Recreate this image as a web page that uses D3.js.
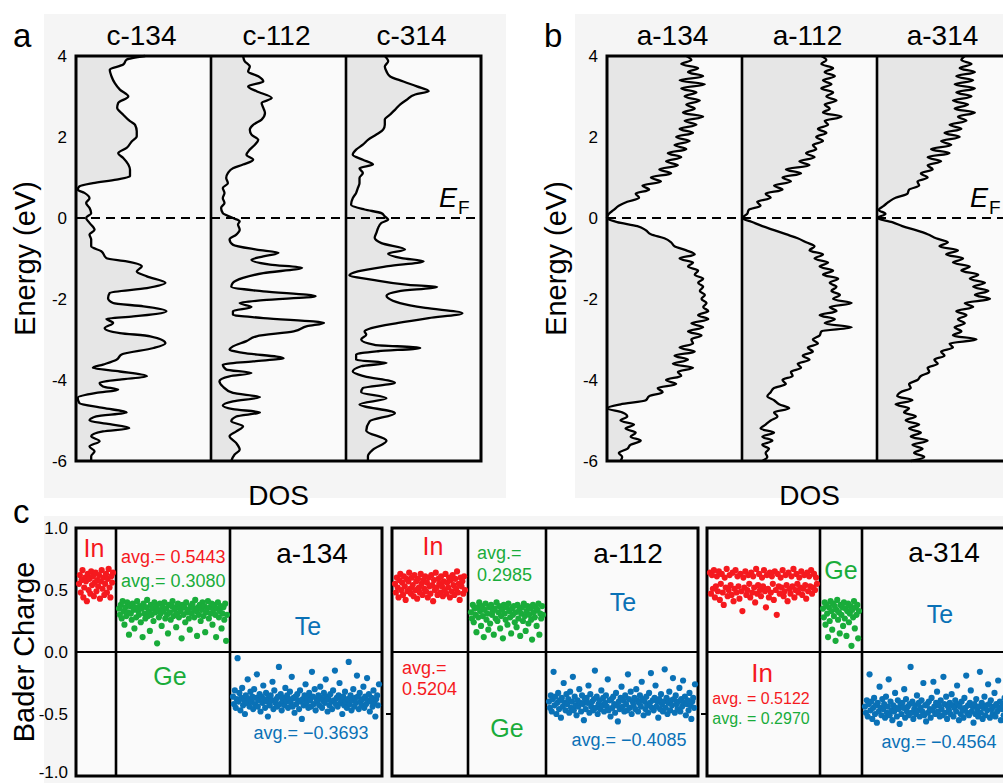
<!DOCTYPE html>
<html>
<head>
<meta charset="utf-8">
<script src="https://cdn.jsdelivr.net/npm/d3@7"></script>
<style>
  body { margin: 0; background: #fff; }
  text { font-family: "Liberation Sans", Arial, sans-serif; }
</style>
</head>
<body>
<script>
// ---- DOS data: [energy (eV), DOS (arb. units)] ----
const c134 = [[4.0,20.5],[3.91,15],[3.79,14],[3.66,10],[3.5,10.5],[3.33,11.5],[3.17,13],[3.0,15.5],[2.84,12.5],[2.72,12.2],[2.55,14],[2.39,16],[2.3,17.5],[2.14,18],[2.02,18],[1.89,16.5],[1.73,15],[1.6,12.5],[1.48,14],[1.32,15.5],[1.19,16],[1.03,16],[0.95,12],[0.86,5],[0.78,1],[0.7,0.5],[0.62,2.5],[0.49,4],[0.37,3],[0.25,4],[0.12,4.5],[0,3],[-0.12,4],[-0.29,5.5],[-0.41,4],[-0.53,4.5],[-0.7,4.5],[-0.82,7.5],[-0.99,9],[-1.07,15],[-1.19,19.5],[-1.32,18],[-1.44,21],[-1.6,26.5],[-1.73,21],[-1.85,10],[-1.98,9.5],[-2.1,11],[-2.18,20],[-2.3,26.8],[-2.43,17],[-2.49,9],[-2.59,11],[-2.72,8.5],[-2.84,13],[-2.92,22],[-3.09,26.5],[-3.21,23],[-3.37,13.5],[-3.5,12],[-3.62,8],[-3.7,5],[-3.79,13],[-3.91,21],[-3.99,13],[-4.07,7],[-4.16,8],[-4.24,12.5],[-4.32,6],[-4.44,0.5],[-4.57,1],[-4.69,8],[-4.8,15],[-4.9,6],[-5.0,4],[-5.08,9],[-5.19,15.8],[-5.27,8],[-5.39,4.5],[-5.51,7],[-5.64,4],[-5.76,5.5],[-5.88,4.5],[-6.0,4.5]];

const c112 = [[4.0,9.5],[3.87,10],[3.74,11.5],[3.62,11],[3.5,14],[3.37,15.5],[3.25,11],[3.13,13.5],[2.96,18],[2.84,15],[2.72,15.5],[2.59,16],[2.43,15],[2.3,12.5],[2.18,11.5],[2.06,12],[1.93,14],[1.81,13],[1.69,11.5],[1.56,10.5],[1.44,12.5],[1.32,9.5],[1.23,6.5],[1.11,5],[0.99,4.5],[0.86,5],[0.74,3.5],[0.62,4],[0.49,3.5],[0.37,4],[0.25,3],[0.12,3.5],[0,6.5],[-0.08,8.5],[-0.16,8],[-0.29,8.5],[-0.41,7.5],[-0.53,5.5],[-0.66,6.5],[-0.78,13.5],[-0.86,20],[-0.95,15.5],[-1.03,12],[-1.15,17.5],[-1.23,27],[-1.36,15.5],[-1.48,9.5],[-1.6,6.5],[-1.7,6],[-1.81,15.5],[-1.93,31],[-2.03,15.5],[-2.1,8.5],[-2.2,12],[-2.3,6.5],[-2.39,6.5],[-2.47,15.5],[-2.59,33.5],[-2.67,28.5],[-2.8,24.5],[-2.92,13.5],[-3.04,10.5],[-3.17,6.5],[-3.25,5.5],[-3.33,9.5],[-3.46,21.5],[-3.54,12.5],[-3.62,3.5],[-3.74,4.5],[-3.83,12],[-3.91,5.5],[-4.03,2.5],[-4.16,3.5],[-4.32,6.5],[-4.42,14.5],[-4.53,6.5],[-4.63,3.5],[-4.72,6.5],[-4.8,14.5],[-4.9,7.5],[-5.02,6],[-5.14,9.5],[-5.27,7.5],[-5.39,5.5],[-5.56,7.5],[-5.72,8.5],[-5.84,7],[-6.0,6]];

const c314 = [[4.0,11.5],[3.87,12.5],[3.74,11.5],[3.62,12],[3.5,13],[3.37,17],[3.25,21],[3.13,24.5],[3.05,20.5],[2.92,18],[2.8,16],[2.67,14.5],[2.55,13],[2.43,11.5],[2.3,11.5],[2.18,11],[2.06,9],[1.93,6.5],[1.81,5],[1.69,3],[1.56,2],[1.44,5],[1.32,8],[1.23,4],[1.11,5],[0.99,4],[0.86,4],[0.74,3.5],[0.62,3],[0.49,2],[0.33,1.5],[0.21,5.5],[0.12,10.5],[0.04,11.5],[-0.04,12.5],[-0.12,10.5],[-0.25,9.5],[-0.37,9],[-0.49,8.5],[-0.62,10.5],[-0.78,17.5],[-0.88,12.5],[-0.99,16.5],[-1.07,23],[-1.19,12.5],[-1.32,3.5],[-1.42,1],[-1.52,7.5],[-1.65,18.5],[-1.7,27],[-1.81,15.5],[-1.92,12],[-1.98,12.5],[-2.1,16],[-2.22,23.5],[-2.35,34.5],[-2.47,24.5],[-2.59,15.5],[-2.72,7.5],[-2.8,5.5],[-2.88,6],[-3.0,4.5],[-3.13,8.5],[-3.21,22],[-3.29,9.5],[-3.37,3],[-3.5,3],[-3.58,12],[-3.66,4.5],[-3.79,2],[-3.91,5.5],[-4.07,14.5],[-4.2,5],[-4.3,4.5],[-4.45,12],[-4.6,4],[-4.82,14.5],[-5.02,7],[-5.25,6],[-5.5,12],[-5.72,8],[-5.88,6.5],[-6.0,6.5]];

// amorphous DOS sampled every 0.1 eV
const aEnergy = [4.0,3.9,3.8,3.7,3.6,3.5,3.4,3.3,3.2,3.1,3.0,2.9,2.8,2.7,2.6,2.5,2.4,2.3,2.2,2.1,2.0,1.9,1.8,1.7,1.6,1.5,1.4,1.3,1.2,1.1,1.0,0.9,0.8,0.7,0.6,0.5,0.4,0.3,0.2,0.1,0.0,-0.1,-0.2,-0.3,-0.4,-0.5,-0.6,-0.7,-0.8,-0.9,-1.0,-1.1,-1.2,-1.3,-1.4,-1.5,-1.6,-1.7,-1.8,-1.9,-2.0,-2.1,-2.2,-2.3,-2.4,-2.5,-2.6,-2.7,-2.8,-2.9,-3.0,-3.1,-3.2,-3.3,-3.4,-3.5,-3.6,-3.7,-3.8,-3.9,-4.0,-4.1,-4.2,-4.3,-4.4,-4.5,-4.6,-4.7,-4.8,-4.9,-5.0,-5.1,-5.2,-5.3,-5.4,-5.5,-5.6,-5.7,-5.8,-5.9,-6.0];

const a134 = [23.5,25,22,27,24,28.5,21.5,29,22,26.5, 23,27.5,23.5,26,22.5,28.5,23,26.5,21.5,25.5, 20.5,24.5,20,23.5,18,22,17.5,21,15.5,19, 13,16,10.5,12.5,8.5,9.5,6,3.5,2,0.5, 0, 3,9,11.5,13,17,19,20,23.5,26,21.5, 25.5,24,27,26,28.5,27,28.5,27.5,29,28, 29.5,28.5,30,27,30,25,28.5,24,28,25, 25.5,21.5,26,20,24,19.5,25.5,21,22,17.5, 20.5,15,16.5,12.5,11.5,4,0,4.5,6,4, 8,5.5,8.5,7,10,7,6,3.5,4.5,4];

const a112 = [23.5,25,23.5,27,24.5,27.5,24,26.5,23.5,27, 25,28,24.5,26,24,29.5,24.5,25.5,22.5,25, 22,24,21,22,19,21.5,17,20,13,17.5, 12,14.5,9.5,12,7,8.5,4.5,5.5,2,1.5, 0, 3,6,9.5,13,16.5,19,21.5,20,24,21.5, 25.5,23,27,24,28.5,26,28,26.5,29,27, 32.5,26,28,23,27.5,24.5,32.5,23.5,23,21, 22.5,19.5,21,18,20,16.5,17.5,14.5,15,12, 13,9.5,8.5,7.5,9.5,11,14,9.5,10.5,8.5, 7,5.5,9.5,6,9,6,8,7,7.5,6];

const a314 = [26,25,28,24.5,29,23.5,28.5,23,29,23.5, 28,22.5,27,23,29,24,26.5,21.5,25,20, 24.5,19,22,16,21.5,15,19,15,16.5,13, 15,12,12.5,9.5,9,5.5,3.5,2,0.5,2.5, 0, 4.5,7.5,11.5,15,17.5,21,18.5,24,20.5,25.5, 22.5,27.5,25,30,27.5,32,28.5,33,29,33.5, 26,28.5,23.5,26.5,24,26,23,25,22.5,29.5, 21.5,22.5,19,20,17,18,15,15.5,13,12, 9.5,10,7,6,10.5,5.5,9.5,8,11.5,8.5, 12.5,9.5,13,10,15,10.5,13.5,11,14,10];

const cTitles = ["c-134", "c-112", "c-314"];
const aTitles = ["a-134", "a-112", "a-314"];
const energyTicks = [4, 2, 0, -2, -4, -6];

// ---- Bader charge data (per atom, ordered by atom index) ----
const in134 = [.55,.62,.48,.58,.66,.44,.52,.60,.57,.41,.63,.50,.59,.47,.65,.54,.61,.45,.56,.64,.49,.58,.53,.62,.43,.57,.66,.51,.60,.46,.55,.63,.48,.59,.67,.52,.44,.61,.56,.64];
const ge134 = [.35,.30,.38,.27,.41,.33,.22,.36,.29,.40,.32,.14,.37,.31,.26,.39,.34,.19,.36,.28,
  .41,.33,.30,.37,.24,.35,.12,.39,.31,.27,.36,.42,.29,.33,.17,.38,.30,.35,.25,.40,
  .32,.37,.07,.34,.28,.39,.31,.21,.36,.33,.40,.27,.35,.30,.15,.38,.32,.26,.37,.41,
  .29,.34,.36,.20,.31,.39,.28,.35,.33,.11,.38,.30,.36,.24,.40,.32,.34,.27,.18,.37,
  .31,.39,.35,.28,.42,.33,.13,.36,.30,.38,.25,.34,.40,.29,.37,.16,.32,.35,.41,.27,
  .36,.31,.39,.22,.34,.38,.30,.12,.35,.40,.28,.33,.37,.19,.31,.36,.26,.39,.09,.30];
const te134 = [-.36,-.42,-.31,-.45,-.38,-.05,-.40,-.33,-.47,-.37,-.29,-.43,-.39,-.50,-.35,-.41,-.22,-.38,-.44,-.32,
  -.40,-.36,-.46,-.30,-.42,-.37,-.18,-.44,-.39,-.34,-.48,-.36,-.41,-.27,-.38,-.45,-.33,-.40,-.52,-.37,
  -.43,-.35,-.39,-.24,-.46,-.31,-.41,-.38,-.44,-.36,-.12,-.42,-.34,-.47,-.39,-.37,-.43,-.29,-.40,-.35,
  -.45,-.38,-.32,-.41,-.20,-.44,-.37,-.49,-.36,-.42,-.34,-.39,-.46,-.31,-.40,-.54,-.38,-.43,-.35,-.26,
  -.41,-.37,-.45,-.33,-.39,-.44,-.16,-.36,-.42,-.30,-.47,-.38,-.40,-.35,-.43,-.28,-.37,-.45,-.39,-.33,
  -.41,-.22,-.36,-.48,-.38,-.43,-.34,-.40,-.46,-.31,-.39,-.15,-.42,-.37,-.44,-.35,-.25,-.41,-.38,-.50,
  -.36,-.43,-.32,-.40,-.45,-.38,-.08,-.42,-.35,-.47,-.39,-.30,-.44,-.37,-.41,-.19,-.36,-.46,-.33,-.40,
  -.43,-.38,-.28,-.45,-.36,-.42,-.21,-.39,-.34,-.48,-.40,-.37,-.44,-.31,-.41,-.52,-.38,-.35,-.43,-.26];

const in112 = [.55,.48,.60,.52,.44,.58,.63,.50,.56,.46,.61,.53,.42,.59,.49,.57,.64,.51,.47,.60,
  .54,.45,.62,.50,.57,.43,.59,.52,.48,.63,.55,.46,.58,.51,.61,.49,.56,.44,.60,.53,
  .47,.62,.54,.41,.58,.50,.64,.52,.46,.59,.55,.48,.61,.53,.45,.57,.50,.63,.47,.56,
  .52,.60,.44,.58,.49,.62,.54,.46,.59,.51,.65,.48,.55,.42,.60,.53,.57,.47,.61,.50];
const ge112 = [.32,.27,.38,.24,.35,.30,.16,.36,.28,.40,.33,.21,.37,.29,.12,.34,.39,.26,.31,.18,
  .36,.23,.38,.30,.33,.14,.35,.27,.40,.25,.32,.37,.19,.29,.34,.11,.38,.31,.26,.36,
  .22,.39,.33,.28,.15,.35,.30,.37,.24,.32,.20,.38,.27,.34,.13,.31,.36,.25,.39,.29,
  .17,.33,.37,.23,.30,.35,.26,.10,.38,.32,.28,.36,.21,.34,.39,.14,.31,.27,.37,.30];
const te112 = [-.40,-.45,-.35,-.48,-.38,-.16,-.43,-.36,-.50,-.41,-.33,-.46,-.39,-.53,-.37,-.44,-.25,-.41,-.47,-.34,
  -.42,-.38,-.49,-.32,-.45,-.40,-.20,-.47,-.36,-.43,-.51,-.39,-.44,-.30,-.41,-.48,-.35,-.42,-.55,-.38,
  -.46,-.37,-.41,-.27,-.49,-.34,-.44,-.40,-.47,-.38,-.15,-.45,-.36,-.50,-.42,-.39,-.46,-.31,-.43,-.37,
  -.48,-.41,-.35,-.44,-.22,-.47,-.39,-.52,-.38,-.45,-.36,-.42,-.49,-.33,-.43,-.56,-.40,-.46,-.37,-.28,
  -.44,-.39,-.48,-.35,-.42,-.47,-.18,-.38,-.45,-.32,-.50,-.40,-.43,-.37,-.46,-.30,-.39,-.48,-.41,-.35,
  -.44,-.24,-.38,-.51,-.40,-.46,-.36,-.43,-.49,-.33,-.41,-.17,-.45,-.39,-.47,-.37,-.27,-.44,-.40,-.53,
  -.38,-.46,-.34,-.42,-.48,-.40,-.14,-.45,-.37,-.50,-.41,-.32,-.47,-.39,-.43,-.21,-.38,-.49,-.35,-.42,
  -.46,-.40,-.29,-.48,-.38,-.44,-.23,-.41,-.36,-.51,-.42,-.39,-.47,-.33,-.43,-.54,-.40,-.37,-.45,-.26];

const in314 = [.64,.47,.62,.51,.66,.44,.53,.61,.49,.65,.42,.55,.63,.48,.38,.60,.52,.67,.45,.50,
  .62,.54,.46,.64,.41,.51,.66,.48,.61,.53,.43,.63,.49,.33,.60,.52,.65,.46,.50,.62,
  .55,.44,.64,.48,.61,.52,.40,.67,.47,.54,.63,.50,.45,.60,.53,.66,.49,.36,.62,.51,
  .44,.64,.48,.61,.55,.42,.65,.50,.30,.63,.53,.47,.60,.52,.66,.45,.49,.62,.54,.41,
  .64,.51,.47,.61,.53,.67,.44,.50,.63,.55,.48,.60,.52,.65,.46,.51,.62,.54,.43,.64,
  .49,.61,.53,.66,.47,.52,.63,.50,.60,.55];
const ge314 = [.35,.28,.40,.22,.38,.31,.12,.36,.25,.41,.33,.18,.39,.29,.37,.09,.34,.42,.26,.32,
  .15,.38,.30,.36,.21,.40,.27,.35,.13,.33,.39,.24,.31,.37,.05,.34,.28,.41,.19,.36,
  .30,.38,.11,.33];
const te314 = [-.44,-.49,-.39,-.52,-.42,-.18,-.47,-.40,-.54,-.45,-.37,-.50,-.43,-.57,-.41,-.48,-.28,-.45,-.51,-.38,
  -.46,-.42,-.53,-.36,-.49,-.44,-.22,-.51,-.40,-.47,-.55,-.43,-.48,-.33,-.45,-.52,-.39,-.46,-.58,-.42,
  -.50,-.41,-.45,-.30,-.53,-.38,-.48,-.44,-.51,-.42,-.12,-.49,-.40,-.54,-.46,-.43,-.50,-.35,-.47,-.41,
  -.52,-.45,-.39,-.48,-.25,-.51,-.43,-.56,-.42,-.49,-.40,-.46,-.53,-.37,-.47,-.24,-.44,-.50,-.41,-.32,
  -.48,-.43,-.52,-.39,-.46,-.51,-.20,-.42,-.49,-.36,-.54,-.44,-.47,-.41,-.50,-.34,-.43,-.52,-.45,-.39,
  -.48,-.27,-.42,-.55,-.44,-.50,-.40,-.47,-.53,-.37,-.45,-.19,-.49,-.43,-.51,-.41,-.31,-.48,-.44,-.57,
  -.42,-.50,-.38,-.46,-.52,-.44,-.16,-.49,-.41,-.54,-.45,-.36,-.51,-.43,-.47,-.26,-.42,-.53,-.39,-.46,
  -.50,-.44,-.33,-.52,-.42,-.48,-.23,-.45,-.40,-.55,-.46,-.43,-.51,-.37,-.47,-.58,-.44,-.41,-.49,-.30];

const avgIn = [0.5443, 0.5204, 0.5122];
const avgGe = [0.3080, 0.2985, 0.2970];
const avgTe = [-0.3693, -0.4085, -0.4564];
const baderTitles = ["a-134", "a-112", "a-314"];
const chargeTicks = [1, 0.5, 0, -0.5, -1];

const RED = "#f5191e", GREEN = "#19ac3a", BLUE = "#0a71b6";

const svg = d3.select("body").append("svg").attr("width", 1003).attr("height", 783);

// panel backgrounds
svg.append("rect").attr("x", 44).attr("y", 14).attr("width", 462).attr("height", 484).attr("fill", "#f5f5f5");
svg.append("rect").attr("x", 575).attr("y", 14).attr("width", 428).attr("height", 484).attr("fill", "#f5f5f5");
svg.append("rect").attr("x", 44).attr("y", 516).attr("width", 959).attr("height", 267).attr("fill", "#f5f5f5");

// ---- DOS panels ----
const yE = d3.scaleLinear().domain([-6, 4]).range([461, 56]);
const panelW = 135;
const xDos = d3.scaleLinear().domain([0, 40]).range([0, panelW]);

function dosPanel(left, titles, curves, letter) {
  const g = svg.append("g");
  const top = yE(4), bot = yE(-6);

  g.append("rect").attr("x", left).attr("y", top).attr("width", 3 * panelW).attr("height", bot - top).attr("fill", "#fafafa");

  curves.forEach((c, i) => {
    const x0 = left + i * panelW;
    const area = d3.area().curve(d3.curveMonotoneY)
      .y(d => yE(d[0])).x0(x0).x1(d => x0 + xDos(d[1]));
    const line = d3.line().curve(d3.curveMonotoneY)
      .y(d => yE(d[0])).x(d => x0 + xDos(d[1]));
    g.append("path").datum(c).attr("d", area).attr("fill", "#e6e6e6");
    g.append("path").datum(c).attr("d", line)
      .attr("fill", "none").attr("stroke", "#000").attr("stroke-width", 2.3).attr("stroke-linejoin", "round");
    g.append("text").attr("x", x0 + panelW / 2 - 2).attr("y", 45)
      .attr("text-anchor", "middle").attr("font-size", 28).text(titles[i]);
  });

  g.append("line").attr("x1", left).attr("x2", left + 3 * panelW).attr("y1", yE(0)).attr("y2", yE(0))
    .attr("stroke", "#000").attr("stroke-width", 2).attr("stroke-dasharray", "9,6");

  [1, 2].forEach(k => {
    g.append("line").attr("x1", left + k * panelW).attr("x2", left + k * panelW)
      .attr("y1", top).attr("y2", bot).attr("stroke", "#000").attr("stroke-width", 2.6);
  });
  g.append("rect").attr("x", left).attr("y", top).attr("width", 3 * panelW).attr("height", bot - top)
    .attr("fill", "none").attr("stroke", "#000").attr("stroke-width", 3);

  const ax = g.append("g").attr("transform", `translate(${left},0)`)
    .call(d3.axisLeft(yE).tickValues(energyTicks).tickSize(0).tickPadding(9).tickFormat(d => String(d)));
  ax.select(".domain").remove();
  ax.selectAll("text").attr("font-size", 17).attr("fill", "#000")
    .style("font-family", "'Liberation Sans', Arial, sans-serif");

  g.append("text").attr("transform", `translate(${left - 41},${yE(-1)}) rotate(-90)`)
    .attr("text-anchor", "middle").attr("font-size", 29).text("Energy (eV)");
  g.append("text").attr("x", left + 1.5 * panelW).attr("y", 505)
    .attr("text-anchor", "middle").attr("font-size", 28).text("DOS");

  const ef = g.append("text").attr("x", left + 3 * panelW - 42).attr("y", 207).attr("font-size", 27);
  ef.append("tspan").attr("font-style", "italic").text("E");
  ef.append("tspan").attr("font-size", 19).attr("dy", 7).attr("dx", 1).text("F");

  svg.append("text").attr("x", left - 63).attr("y", 47).attr("font-size", 33).text(letter);
}

dosPanel(76, cTitles, [c134, c112, c314], "a");
const zipA = vals => aEnergy.map((e, i) => [e, vals[i]]);
dosPanel(607, aTitles, [zipA(a134), zipA(a112), zipA(a314)], "b");

// ---- Bader charge panel ----
const yQ = d3.scaleLinear().domain([-1, 1]).range([776, 528]);
const boxes = [
  { x0: 76, x1: 382, div: [116, 230], data: [in134, ge134, te134] },
  { x0: 392, x1: 698, div: [468, 546], data: [in112, ge112, te112] },
  { x0: 707, x1: 1013, div: [820, 862], data: [in314, ge314, te314] }
];
const colors = [RED, GREEN, BLUE];
const fmt = v => (v < 0 ? "\u2212" : "") + Math.abs(v).toFixed(4);

boxes.forEach((b, bi) => {
  const g = svg.append("g");
  g.append("rect").attr("x", b.x0).attr("y", yQ(1)).attr("width", b.x1 - b.x0).attr("height", yQ(-1) - yQ(1)).attr("fill", "#fafafa");
  g.append("line").attr("x1", b.x0).attr("x2", b.x1).attr("y1", yQ(0)).attr("y2", yQ(0))
    .attr("stroke", "#000").attr("stroke-width", 2);
  b.div.forEach(x => g.append("line").attr("x1", x).attr("x2", x).attr("y1", yQ(1)).attr("y2", yQ(-1))
    .attr("stroke", "#000").attr("stroke-width", 2.6));
  g.append("rect").attr("x", b.x0).attr("y", yQ(1)).attr("width", b.x1 - b.x0).attr("height", yQ(-1) - yQ(1))
    .attr("fill", "none").attr("stroke", "#000").attr("stroke-width", 3);
  if (bi > 0) {
    g.append("line").attr("x1", b.x0 - 6).attr("x2", b.x0).attr("y1", yQ(-0.5)).attr("y2", yQ(-0.5))
      .attr("stroke", "#000").attr("stroke-width", 2);
  }

  const edges = [b.x0, b.div[0], b.div[1], b.x1];
  b.data.forEach((vals, k) => {
    const x = d3.scaleLinear().domain([0, vals.length - 1]).range([edges[k] + 3, edges[k + 1] - 3]);
    g.selectAll(null).data(vals).enter().append("circle")
      .attr("cx", (d, i) => x(i)).attr("cy", d => yQ(d)).attr("r", 3.1).attr("fill", colors[k]);
  });
});

const t = (x, y, s, c, txt, anchor) => svg.append("text").attr("x", x).attr("y", y)
  .attr("font-size", s).attr("fill", c).attr("text-anchor", anchor || "middle").text(txt);
// box 1
t(94, 557, 25, RED, "In");
t(121, 563, 18, RED, "avg.= " + fmt(avgIn[0]), "start");
t(121, 587, 18, GREEN, "avg.= " + fmt(avgGe[0]), "start");
t(312, 563, 28, "#000", baderTitles[0]);
t(308, 635, 25, BLUE, "Te");
t(170, 685, 25, GREEN, "Ge");
t(311, 739, 18, BLUE, "avg.= " + fmt(avgTe[0]));
// box 2
t(433, 555, 25, RED, "In");
t(477, 559, 18, GREEN, "avg.=", "start");
t(477, 581, 18, GREEN, fmt(avgGe[1]), "start");
t(628, 563, 28, "#000", baderTitles[1]);
t(623, 611, 25, BLUE, "Te");
t(402, 674, 18, RED, "avg.=", "start");
t(402, 695, 18, RED, fmt(avgIn[1]), "start");
t(507, 737, 25, GREEN, "Ge");
t(629, 746, 18, BLUE, "avg.= " + fmt(avgTe[1]));
// box 3
t(841, 579, 25, GREEN, "Ge");
t(944, 562, 28, "#000", baderTitles[2]);
t(940, 623, 25, BLUE, "Te");
t(762, 682, 26, RED, "In");
t(761, 704, 16, RED, "avg. = " + fmt(avgIn[2]));
t(761, 724, 16, GREEN, "avg. = " + fmt(avgGe[2]));
t(939, 748, 18, BLUE, "avg.= " + fmt(avgTe[2]));

const axQ = svg.append("g").attr("transform", "translate(76,0)")
  .call(d3.axisLeft(yQ).tickValues(chargeTicks).tickSize(0).tickPadding(8).tickFormat(d => d.toFixed(1)));
axQ.select(".domain").remove();
axQ.selectAll("text").attr("font-size", 17).attr("fill", "#000")
  .style("font-family", "'Liberation Sans', Arial, sans-serif");
axQ.selectAll(".tick").filter(d => d === -1).select("text").attr("dy", "0.1em");

svg.append("text").attr("transform", `translate(34,${yQ(0)}) rotate(-90)`)
  .attr("text-anchor", "middle").attr("font-size", 29).text("Bader Charge");
svg.append("text").attr("x", 13).attr("y", 523).attr("font-size", 33).text("c");
</script>
</body>
</html>
